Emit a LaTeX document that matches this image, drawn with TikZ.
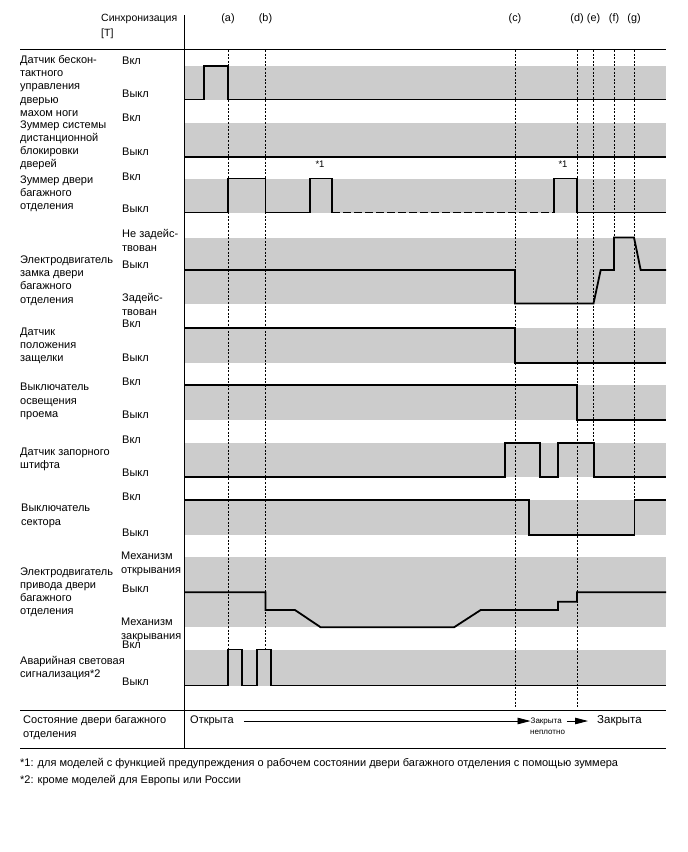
\documentclass[tikz,border=0pt]{standalone}
\usepackage{fontspec}
\setmainfont{Liberation Sans}
\usetikzlibrary{arrows.meta}

\begin{document}
\begin{tikzpicture}[x=1pt, y=-1pt,
    band/.style={fill=black!20, draw=none},
    sig/.style={line width=1.8pt, line join=miter},
    sync/.style={line width=0.9pt, dash pattern=on 2pt off 1.6pt},
    rule/.style={line width=1pt},
    txt/.style={font=\fontsize{11}{13.2}\selectfont, inner sep=0pt, align=left, anchor=north west},
    lvl/.style={font=\fontsize{11}{14}\selectfont, inner sep=0pt, align=left, anchor=west},
    stateto/.style={line width=0.8pt, -{Triangle[length=13pt, width=6.5pt]}}]
    \useasboundingbox (0,0) rectangle (688,852);

    % Gray bands
    \foreach \ytop/\ybot in {65.7/99.5, 122.7/156.7, 178.5/212.5, 237.5/303.5, 328.3/363.3,
                            385/420, 442.7/477, 500/535, 556.7/627.3, 649.5/685.5}
        \fill[band] (184.5,\ytop) rectangle (666,\ybot);

    % Synchronisation lines and their labels
    \foreach \x/\yend/\t in {228/650/a, 265.5/650/b, 515/707/c, 577/707/d,
                             593.5/442.7/e, 614/237.5/f, 634/500/g} {
        \draw[sync] (\x,50) -- (\x,\yend);
        \node[font=\fontsize{10.8}{12}\selectfont] (t\t) at (\x,19) {(\t)};
    }

    % Table rules
    \draw[rule] (20,49.5) -- (666,49.5);
    \draw[line width=1.2pt] (184.5,15) -- (184.5,748.3);
    \draw[rule] (20,710.7) -- (666,710.7);
    \draw[rule] (20,748.3) -- (666,748.3);

    \node[txt, font=\fontsize{10.5}{15}\selectfont] (sync) at (101,13.5) {Синхронизация\\{[T]}};

    % Signal names
    \node[txt] (n1) at (20,55.2) {Датчик бескон-\\тактного\\управления\\дверью\\махом ноги};
    \node[txt] (n2) at (20,120.2) {Зуммер системы\\дистанционной\\блокировки\\дверей};
    \node[txt] (n3) at (20,175.2) {Зуммер двери\\багажного\\отделения};
    \node[txt] (n4) at (20,255.7) {Электродвигатель\\замка двери\\багажного\\отделения};
    \node[txt] (n5) at (20,327.7) {Датчик\\положения\\защелки};
    \node[txt] (n6) at (20,383.2) {Выключатель\\освещения\\проема};
    \node[txt] (n7) at (20,447.7) {Датчик запорного\\штифта};
    \node[txt] (n8) at (21,504.2) {Выключатель\\сектора};
    \node[txt] (n9) at (20,567.2) {Электродвигатель\\привода двери\\багажного\\отделения};
    \node[txt] (n10) at (20,655.7) {Аварийная световая\\сигнализация*2};
    \node[txt] (n11) at (23,715.7) {Состояние двери багажного\\отделения};

    % Levels
    \node[lvl] (on1) at (122,61) {Вкл};
    \node[lvl] (off1) at (122,94) {Выкл};
    \node[lvl] (on2) at (122,118) {Вкл};
    \node[lvl] (off2) at (122,152) {Выкл};
    \node[lvl] (on3) at (122,177) {Вкл};
    \node[lvl] (off3) at (122,209) {Выкл};
    \node[lvl] (idle4) at (122,240) {Не задейс-\\твован};
    \node[lvl] (off4) at (122,265) {Выкл};
    \node[lvl] (act4) at (122,304) {Задейс-\\твован};
    \node[lvl] (on5) at (122,323.5) {Вкл};
    \node[lvl] (off5) at (122,358) {Выкл};
    \node[lvl] (on6) at (122,382) {Вкл};
    \node[lvl] (off6) at (122,415) {Выкл};
    \node[lvl] (on7) at (122,440) {Вкл};
    \node[lvl] (off7) at (122,473) {Выкл};
    \node[lvl] (on8) at (122,497) {Вкл};
    \node[lvl] (off8) at (122,533) {Выкл};
    \node[lvl] (open9) at (121,563.5) {Механизм\\открывания};
    \node[lvl] (off9) at (122,588.5) {Выкл};
    \node[lvl] (close9) at (121,629.5) {Механизм\\закрывания};
    \node[lvl] (on10) at (122,645) {Вкл};
    \node[lvl] (off10) at (122,681.5) {Выкл};

    % Signals
    \draw[sig] (184.5,99.5) -- (204,99.5) -- (204,65.7) -- (228,65.7) -- (228,99.5) -- (666,99.5);
    \draw[sig] (184.5,156.7) -- (666,156.7);
    \draw[sig] (184.5,212.5) -- (228,212.5) -- (228,178.5) -- (265.5,178.5) -- (265.5,212.5)
        -- (310,212.5) -- (310,178.5) -- (332,178.5) -- (332,212.5);
    \draw[sig, dash pattern=on 8pt off 3pt] (332,212.5) -- (554,212.5);
    \draw[sig] (554,212.5) -- (554,178.5) -- (577,178.5) -- (577,212.5) -- (666,212.5);
    \node[font=\fontsize{9.5}{11}\selectfont] (fn1a) at (320,164) {*1};
    \node[font=\fontsize{9.5}{11}\selectfont] (fn1b) at (563,164) {*1};
    \draw[sig] (184.5,270) -- (515,270) -- (515,303.5) -- (593.5,303.5) -- (600.7,270) -- (614,270)
        -- (614,237.5) -- (634,237.5) -- (640.7,270) -- (666,270);
    \draw[sig] (184.5,328.3) -- (515,328.3) -- (515,363.3) -- (666,363.3);
    \draw[sig] (184.5,385) -- (577,385) -- (577,420) -- (666,420);
    \draw[sig] (184.5,477) -- (504.7,477) -- (504.7,442.7) -- (540,442.7) -- (540,477) -- (558,477)
        -- (558,442.7) -- (594,442.7) -- (594,477) -- (666,477);
    \draw[sig] (184.5,500) -- (529,500) -- (529,535) -- (634.5,535) -- (634.5,500) -- (666,500);
    \draw[sig] (184.5,592.3) -- (265.5,592.3) -- (265.5,610) -- (295,610) -- (320.7,627.3) -- (454,627.3)
        -- (480.7,610) -- (558,610) -- (558,601.7) -- (577,601.7) -- (577,592.3) -- (666,592.3);
    \draw[sig] (184.5,685.5) -- (228,685.5) -- (228,649.5) -- (242,649.5) -- (242,685.5) -- (257,685.5)
        -- (257,649.5) -- (271,649.5) -- (271,685.5) -- (666,685.5);

    % Door state
    \node[lvl, text height=7.5pt, text depth=2pt] (open) at (190,721) {Открыта};
    \node[lvl, font=\fontsize{8}{10}\selectfont, text height=7.5pt, text depth=2pt] (ajar) at (530.5,721) {Закрыта};
    \node[font=\fontsize{8}{10}\selectfont, inner sep=0pt, anchor=west] (ajar2) at (530,732.5) {неплотно};
    \node[lvl, font=\fontsize{11.5}{13}\selectfont, text height=7.5pt, text depth=2pt] (closed) at (597,721) {Закрыта};
    \draw[stateto, shorten <=10pt] (open) -- (ajar);
    \draw[stateto, shorten <=5pt, shorten >=9pt] (ajar) -- (closed);

    % Footnotes
    \node[lvl, font=\fontsize{11}{13}\selectfont] (note1) at (20,764) {*1: для моделей с функцией предупреждения о рабочем состоянии двери багажного отделения с помощью зуммера};
    \node[lvl, font=\fontsize{11}{13}\selectfont] (note2) at (20,781) {*2: кроме моделей для Европы или России};
\end{tikzpicture}
\end{document}
